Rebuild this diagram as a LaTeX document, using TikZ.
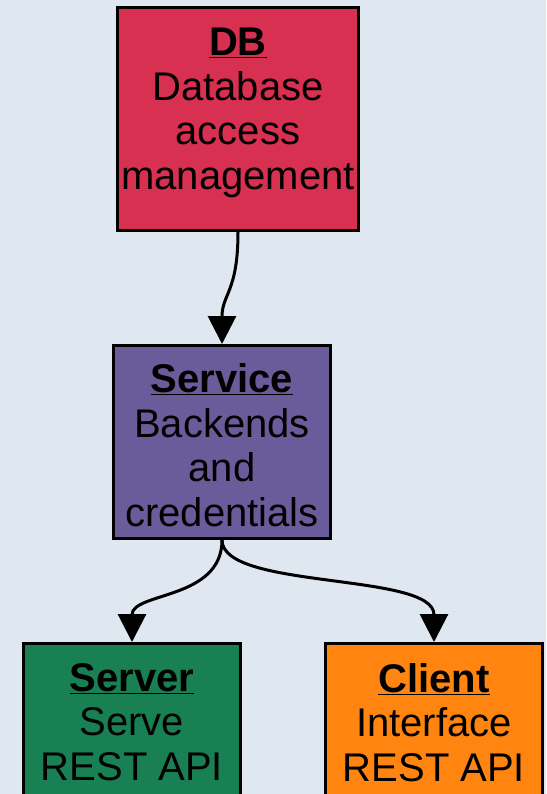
\documentclass[tikz,border=0pt]{standalone}
\usepackage{fontspec}
\setmainfont{Liberation Sans}
\usetikzlibrary{arrows.meta}
\definecolor{bgc}{RGB}{223,231,241}
\definecolor{dbred}{RGB}{215,48,80}
\definecolor{svcpurple}{RGB}{106,92,154}
\definecolor{srvgreen}{RGB}{25,128,84}
\definecolor{cliorange}{RGB}{255,133,16}
\begin{document}
\begin{tikzpicture}[x=1pt,y=-1pt,
  box/.style={draw=black, line width=3pt, rectangle, inner sep=0pt},
  lbl/.style={align=center, inner sep=0pt, anchor=north,
    font=\fontsize{40}{44.5}\selectfont},
  link/.style={line width=3pt, -{Triangle[length=28pt,width=28pt]}}]
  \useasboundingbox (0,0) rectangle (546,794);
  \clip (0,0) rectangle (546,794);
  \fill[bgc] (0,0) rectangle (546,794);

  % component boxes
  \node[box, fill=dbred, minimum width=241pt, minimum height=223pt] (db) at (238,119) {};
  \node[box, fill=svcpurple, minimum width=217pt, minimum height=193pt] (svc) at (222,442) {};
  \node[box, fill=srvgreen, minimum width=217pt, minimum height=193pt] (srv) at (132,740) {};
  \node[box, fill=cliorange, minimum width=217pt, minimum height=193pt] (cli) at (434,740) {};

  % labels
  \node[lbl] (dbt) at (238,28) {\underline{\textbf{DB}}\\Database\\access\\management};
  \node[lbl] (svct) at (222,363.5) {\underline{\textbf{Service}}\\Backends\\and\\credentials};
  \node[lbl] (srvt) at (132,663) {\underline{\textbf{Server}}\\Serve\\REST API};
  \node[lbl] (clit) at (434,663) {\underline{\textbf{Client}}\\Interface\\REST API};

  % dependencies
  \draw[link] (db.south) .. controls +(0,60) and +(0,-50) .. (svc.north);
  \draw[link] (svc.south) .. controls +(0,60) and +(0,-50) .. (srv.north);
  \draw[link] (svc.south) .. controls +(0,50) and +(0,-70) .. (cli.north);
\end{tikzpicture}
\end{document}
